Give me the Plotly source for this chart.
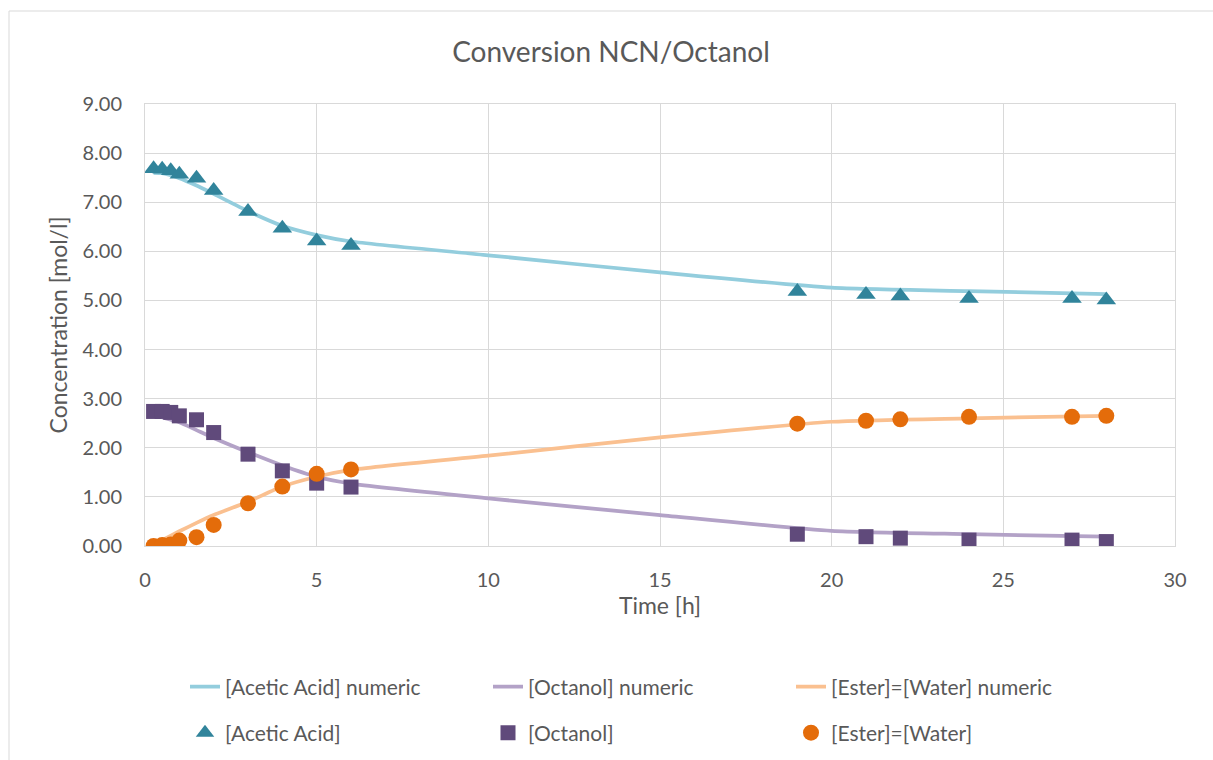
import plotly.graph_objects as go

# measured data
t_meas = [0.25, 0.5, 0.75, 1, 1.5, 2, 3, 4, 5, 6, 19, 21, 22, 24, 27, 28]
acetic = [7.68, 7.67, 7.64, 7.57, 7.49, 7.24, 6.81, 6.47, 6.21, 6.12, 5.18, 5.12, 5.09, 5.04, 5.04, 5.01]
octanol = [2.74, 2.74, 2.72, 2.65, 2.57, 2.31, 1.87, 1.53, 1.28, 1.20, 0.24, 0.19, 0.16, 0.12, 0.12, 0.09]
ester = [0.00, 0.02, 0.03, 0.11, 0.18, 0.43, 0.87, 1.21, 1.47, 1.56, 2.49, 2.55, 2.58, 2.63, 2.63, 2.65]

# numeric model curves
t_num = [0.25, 0.5, 1, 1.5, 2, 3, 4, 5, 6, 10, 15, 20, 24, 28]
acetic_num = [7.60, 7.59, 7.49, 7.34, 7.17, 6.82, 6.52, 6.33, 6.20, 5.92, 5.57, 5.26, 5.19, 5.13]
octanol_num = [2.73, 2.62, 2.52, 2.36, 2.20, 1.91, 1.64, 1.41, 1.27, 0.97, 0.63, 0.31, 0.24, 0.19]
ester_num = [0.03, 0.12, 0.30, 0.47, 0.63, 0.90, 1.21, 1.41, 1.55, 1.84, 2.21, 2.53, 2.60, 2.65]

x_ticks = [0, 5, 10, 15, 20, 25, 30]
y_ticks = [0, 1, 2, 3, 4, 5, 6, 7, 8, 9]

FONT = "Lato"
GREY = "#595959"

fig = go.Figure()
line_specs = [
    ("[Acetic Acid] numeric", acetic_num, "#93CDDD"),
    ("[Octanol] numeric", octanol_num, "#B3A2C7"),
    ("[Ester]=[Water] numeric", ester_num, "#FAC090"),
]
for name, ys, col in line_specs:
    fig.add_trace(go.Scatter(x=t_num, y=ys, mode="lines", name=name,
                             line=dict(color=col, width=3.75, shape="spline", smoothing=0.6),
                             legend="legend"))

marker_specs = [
    ("[Acetic Acid]", acetic, "#31849B", "triangle-up", 17),
    ("[Octanol]", octanol, "#604A7B", "square", 15),
    ("[Ester]=[Water]", ester, "#E46C0A", "circle", 16),
]
for name, ys, col, sym, sz in marker_specs:
    fig.add_trace(go.Scatter(x=t_meas, y=ys, mode="markers", name=name,
                             marker=dict(color=col, symbol=sym, size=sz, line=dict(width=0)),
                             legend="legend2"))

L, R, T, B = 145, 38, 104, 214
W, H = 1213, 760
pw, ph = W - L - R, H - T - B

def px_to_paper_x(px):
    return (px - L) / pw

def px_to_paper_y(py):
    return (H - B - py) / ph

legend_common = dict(orientation="h", xref="container", yref="container",
                     xanchor="left", yanchor="middle",
                     entrywidth=258, entrywidthmode="pixels",
                     font=dict(size=21, color=GREY, family=FONT),
                     bgcolor="rgba(0,0,0,0)", tracegroupgap=0)

fig.update_layout(
    width=W, height=H,
    margin=dict(l=L, r=R, t=T, b=B, autoexpand=False),
    paper_bgcolor="white", plot_bgcolor="white",
    font=dict(family=FONT, color=GREY, size=16),
    title=dict(text="Conversion NCN/Octanol", x=611 / W, xref="container", xanchor="center",
               y=1 - 52 / H, yref="container", yanchor="middle",
               font=dict(family=FONT, size=28, color=GREY)),
    xaxis=dict(range=[0, 30], tickvals=x_ticks, ticktext=[str(v) for v in x_ticks],
               showgrid=True, gridcolor="#D9D9D9", gridwidth=1,
               showline=True, linecolor="#D9D9D9", linewidth=1, mirror=True,
               zeroline=False, ticks="", tickfont=dict(size=20, color=GREY),
               ticklabelstandoff=16, automargin=False,
               title=dict(text="Time [h]", font=dict(size=23, color=GREY), standoff=3)),
    yaxis=dict(range=[0, 9], tickvals=y_ticks, ticktext=[f"{v:.2f}" for v in y_ticks],
               showgrid=True, gridcolor="#D9D9D9", gridwidth=1,
               showline=True, linecolor="#D9D9D9", linewidth=1, mirror=True,
               zeroline=False, ticks="", tickfont=dict(size=20, color=GREY),
               ticklabelstandoff=18, automargin=False,
               title=dict(text="Concentration [mol/l]", font=dict(size=23, color=GREY), standoff=8)),
    legend=dict(x=185 / W, y=1 - 687 / H, **legend_common),
    legend2=dict(x=185 / W, y=1 - 733 / H, **legend_common),
    showlegend=True,
)

# outer chart border (left and top edges visible)
bx, by = px_to_paper_x(9), px_to_paper_y(11)
fig.add_shape(type="line", xref="paper", yref="paper", x0=bx, x1=bx, y0=by, y1=px_to_paper_y(770),
              line=dict(color="#D9D9D9", width=1))
fig.add_shape(type="line", xref="paper", yref="paper", x0=bx, x1=px_to_paper_x(1220), y0=by, y1=by,
              line=dict(color="#D9D9D9", width=1))

fig.write_html("out.html")
